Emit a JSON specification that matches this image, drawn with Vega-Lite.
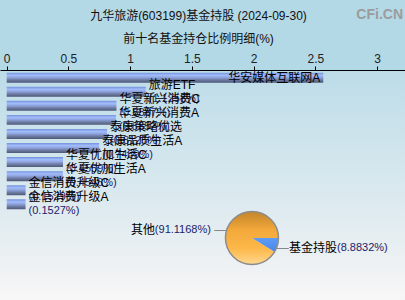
{
  "$schema": "https://vega.github.io/schema/vega-lite/v6.json",
  "background": "#b3d8e6",
  "padding": {"left": 0, "top": 8, "right": 0, "bottom": 0},
  "config": {
    "view": {"stroke": null},
    "font": "Liberation Sans, Noto Sans CJK SC",
    "text": {"font": "Liberation Sans, Noto Sans CJK SC", "fontSize": 12}
  },
  "datasets": {
    "funds": [
      {"name": "华安媒体互联网A", "value": 2.5636, "pct": "(2.5636%)"},
      {"name": "旅游ETF", "value": 1.1258, "pct": "(1.1258%)"},
      {"name": "华夏新兴消费C", "value": 0.8887, "pct": "(0.8887%)"},
      {"name": "华夏新兴消费A", "value": 0.8852, "pct": "(0.8852%)"},
      {"name": "泰康策略优选", "value": 0.8125, "pct": "(0.8125%)"},
      {"name": "泰康品质生活A", "value": 0.7489, "pct": "(0.7489%)"},
      {"name": "华夏优加生活C", "value": 0.4559, "pct": "(0.4559%)"},
      {"name": "华夏优加生活A", "value": 0.4546, "pct": "(0.4546%)"},
      {"name": "金信消费升级C", "value": 0.1529, "pct": "(0.1529%)"},
      {"name": "金信消费升级A", "value": 0.1527, "pct": "(0.1527%)"}
    ],
    "share": [
      {"name": "基金持股", "value": 8.8832, "pct": "(8.8832%)"},
      {"name": "其他", "value": 91.1168, "pct": "(91.1168%)"}
    ]
  },
  "title": {
    "text": "CFi.CN", "orient": "top", "anchor": "end", "frame": "group",
    "baseline": "top", "offset": 0, "dy": 12, "dx": -2,
    "fontSize": 14, "fontWeight": "bold", "color": "#9c9c9c", "font": "Liberation Sans"
  },
  "vconcat": [
    {
      "width": 405,
      "height": 231,
      "title": {
        "text": "九华旅游(603199)基金持股 (2024-09-30)",
        "subtitle": "前十名基金持仓比例明细(%)",
        "anchor": "middle", "dx": -4,
        "fontSize": 12, "fontWeight": "normal", "color": "#111111",
        "subtitleFontSize": 12, "subtitleColor": "#111111", "subtitlePadding": 11,
        "subtitleFont": "Liberation Sans, Noto Sans CJK SC",
        "offset": 6
      },
      "view": {"stroke": null, "fill": {"gradient": "linear", "x1": 0, "y1": 0, "x2": 0, "y2": 1, "stops": [{"offset": 0, "color": "#bcdce8"}, {"offset": 0.61, "color": "#dfebf0"}, {"offset": 0.84, "color": "#edf1f3"}, {"offset": 1, "color": "#f8f7f7"}]}},
      "encoding": {
        "x": {
          "type": "quantitative",
          "scale": {"domain": [-0.0543, 3.2251], "nice": false, "zero": false},
          "axis": {
            "orient": "top", "values": [0, 0.5, 1, 1.5, 2, 2.5, 3], "format": "~g",
            "grid": false, "title": null, "labelFontSize": 12, "labelColor": "#222222",
            "labelFont": "Liberation Sans", "domainColor": "#000000", "tickColor": "#000000",
            "tickSize": 4, "labelPadding": 1, "labelFlush": false, "labelOverlap": false
          }
        },
        "y": {
          "type": "nominal",
          "axis": null,
          "scale": {
            "domain": ["华安媒体互联网A", "旅游ETF", "华夏新兴消费C", "华夏新兴消费A", "泰康策略优选", "泰康品质生活A", "华夏优加生活C", "华夏优加生活A", "金信消费升级C", "金信消费升级A", "_1", "_2", "_3", "_4", "_5", "_6"],
            "paddingInner": 0.29, "paddingOuter": 0.354, "align": 0.268
          }
        }
      },
      "layer": [
        {
          "data": {"name": "funds"},
          "mark": {"type": "bar", "color": {"gradient": "linear", "x1": 0, "y1": 0, "x2": 0, "y2": 1, "stops": [{"offset": 0, "color": "#7290dc"}, {"offset": 0.25, "color": "#a2bcfa"}, {"offset": 0.45, "color": "#92a8e4"}, {"offset": 0.75, "color": "#6a789e"}, {"offset": 1, "color": "#4e5878"}]}},
          "encoding": {"x": {"field": "value", "type": "quantitative"}, "x2": {"datum": 0}, "y": {"field": "name", "type": "nominal"}}
        },
        {
          "data": {"name": "funds"},
          "transform": [{"filter": "datum.value < 2"}],
          "mark": {"type": "text", "align": "left", "baseline": "middle", "dx": 3, "dy": 7, "fontSize": 11, "color": "#1c1c6a"},
          "encoding": {"x": {"field": "value", "type": "quantitative"}, "y": {"field": "name", "type": "nominal"}, "text": {"field": "pct"}}
        },
        {
          "data": {"name": "funds"},
          "transform": [{"filter": "datum.value < 2"}],
          "mark": {"type": "text", "align": "left", "baseline": "middle", "dx": 3, "dy": -7, "color": "#000000"},
          "encoding": {"x": {"field": "value", "type": "quantitative"}, "y": {"field": "name", "type": "nominal"}, "text": {"field": "name"}}
        },
        {
          "data": {"name": "funds"},
          "transform": [{"filter": "datum.value >= 2"}],
          "mark": {"type": "text", "align": "right", "baseline": "middle", "dx": -3, "color": "#000000"},
          "encoding": {"x": {"field": "value", "type": "quantitative"}, "y": {"field": "name", "type": "nominal"}, "text": {"field": "name"}}
        },
        {
          "data": {"name": "share"},
          "encoding": {
            "x": {"datum": 1.986, "type": "quantitative"},
            "y": {"datum": "_2", "type": "nominal", "bandPosition": 1.057},
            "theta": {"field": "value", "type": "quantitative", "stack": true, "scale": {"range": [1.5708, 7.854]}},
            "order": {"field": "value", "type": "quantitative", "sort": "ascending"}
          },
          "layer": [
            {
              "mark": {"type": "arc", "radius": 26.5},
              "encoding": {
                "color": {
                  "condition": {"test": "datum.name === '基金持股'", "value": {"gradient": "linear", "x1": 0, "y1": 0, "x2": 0, "y2": 1, "stops": [{"offset": 0, "color": "#5c9cf4"}, {"offset": 1, "color": "#4a86ea"}]}},
                  "value": {"gradient": "linear", "x1": 0, "y1": 0, "x2": 0, "y2": 1, "stops": [{"offset": 0, "color": "#c4852a"}, {"offset": 0.35, "color": "#f3a83a"}, {"offset": 0.7, "color": "#fdb84a"}, {"offset": 1, "color": "#ffd88e"}]}
                }
              }
            },
            {
              "transform": [{"aggregate": [{"op": "sum", "field": "value", "as": "value"}]}],
              "mark": {"type": "arc", "radius": 26.5, "fill": null, "stroke": "#8c8c8c", "strokeWidth": 1.5},
              "encoding": {}
            },
            {
              "mark": {"type": "text", "radius": 42.7, "align": "right", "baseline": "middle", "dy": 4, "fontSize": 11, "color": "#1c1c6a"},
              "encoding": {"text": {"condition": {"test": "datum.name === '其他'", "field": "pct"}, "value": ""}}
            },
            {
              "mark": {"type": "text", "radius": 42.7, "align": "right", "baseline": "middle", "dy": 4, "dx": -56, "color": "#000000"},
              "encoding": {"text": {"condition": {"test": "datum.name === '其他'", "field": "name"}, "value": ""}}
            },
            {
              "mark": {"type": "text", "radius": 33, "align": "center", "baseline": "middle", "dy": 1, "color": "#888888"},
              "encoding": {"text": {"condition": {"test": "datum.name === '其他'", "value": "—"}, "value": ""}}
            },
            {
              "mark": {"type": "text", "radius": 38.5, "align": "left", "baseline": "middle", "dy": -1, "color": "#000000"},
              "encoding": {"text": {"condition": {"test": "datum.name === '基金持股'", "field": "name"}, "value": ""}}
            },
            {
              "mark": {"type": "text", "radius": 38.5, "align": "left", "baseline": "middle", "dy": -1, "dx": 48, "fontSize": 11, "color": "#1c1c6a"},
              "encoding": {"text": {"condition": {"test": "datum.name === '基金持股'", "field": "pct"}, "value": ""}}
            },
            {
              "mark": {"type": "text", "radius": 32, "align": "center", "baseline": "middle", "dy": 1, "color": "#888888"},
              "encoding": {"text": {"condition": {"test": "datum.name === '基金持股'", "value": "—"}, "value": ""}}
            }
          ]
        }
      ]
    }
  ]
}
